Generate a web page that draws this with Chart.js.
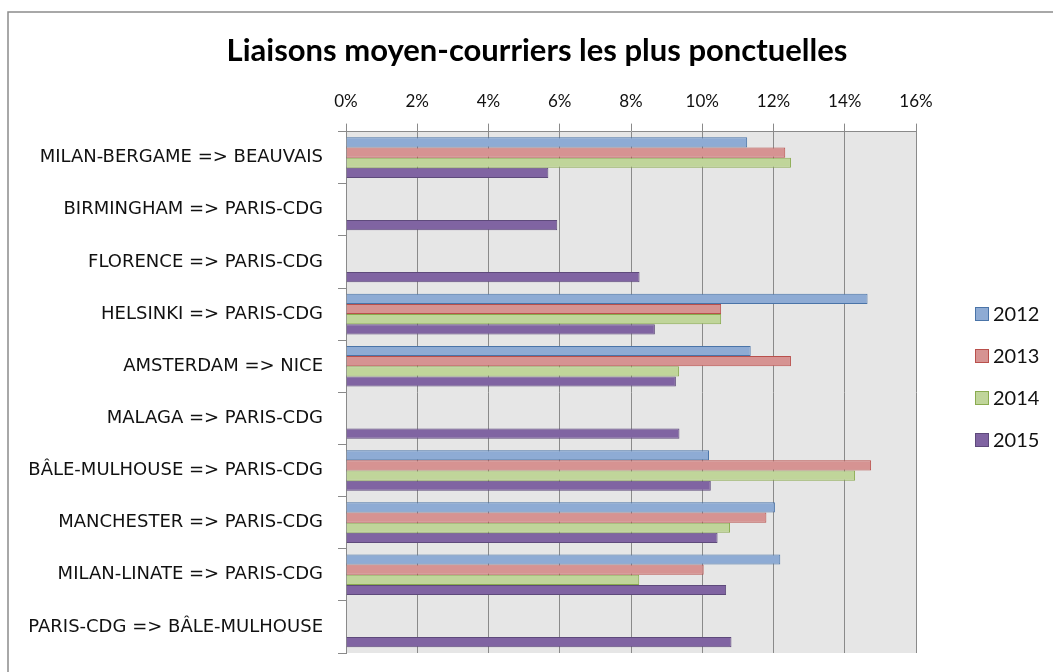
<!DOCTYPE html>
<html>
<head>
<meta charset="utf-8">
<script src="https://cdn.jsdelivr.net/npm/chart.js@4"></script>
<style>
  body { margin: 0; background: #fff; }
</style>
</head>
<body>
<canvas id="ponctualite" width="1053" height="672"></canvas>
<script>
// Data

const routes = [
  "MILAN-BERGAME => BEAUVAIS",
  "BIRMINGHAM => PARIS-CDG",
  "FLORENCE => PARIS-CDG",
  "HELSINKI => PARIS-CDG",
  "AMSTERDAM => NICE",
  "MALAGA => PARIS-CDG",
  "BÂLE-MULHOUSE => PARIS-CDG",
  "MANCHESTER => PARIS-CDG",
  "MILAN-LINATE => PARIS-CDG",
  "PARIS-CDG => BÂLE-MULHOUSE"
];
const years = ["2012", "2013", "2014", "2015"];
const vals2012 = [11.26, null, null, 14.64, 11.36, null, 10.19, 12.04, 12.19, null];
const vals2013 = [12.33, null, null, 10.53, 12.49, null, 14.74, 11.80, 10.04, null];
const vals2014 = [12.49, null, null, 10.53, 9.35, null, 14.29, 10.78, 8.23, null];
const vals2015 = [5.68, 5.93, 8.24, 8.67, 9.26, 9.36, 10.24, 10.43, 10.67, 10.82];
const pctMin = 0;
const pctMax = 16;
const pctStep = 2;

const fills = ["#8eabd4", "#d69392", "#c0d59a", "#8064a2"];
const borders = ["#4a74a8", "#b9504c", "#8aab4f", "#5e4a7b"];

Chart.defaults.font.family = "Lato";
Chart.defaults.color = "#111111";

// gray plot area + outer frame
const plotBg = {
  id: "plotBg",
  beforeDraw(chart) {
    const ctx = chart.ctx;
    const a = chart.chartArea;
    ctx.save();
    ctx.fillStyle = "#e6e6e6";
    ctx.fillRect(a.left, a.top, a.right - a.left, a.bottom - a.top);
    ctx.strokeStyle = "#8c8c8c";
    ctx.lineWidth = 1.5;
    ctx.strokeRect(8, 12, 1100, 1100);
    ctx.restore();
  }
};

// legend on the right, one line per year
const sideLegend = {
  id: "sideLegend",
  afterDraw(chart) {
    const ctx = chart.ctx;
    ctx.save();
    ctx.font = "20px Lato";
    ctx.textBaseline = "middle";
    chart.data.datasets.forEach((ds, i) => {
      const y = 314 + i * 42;
      ctx.fillStyle = ds.backgroundColor;
      ctx.fillRect(975, y - 7, 14, 14);
      ctx.strokeStyle = ds.borderColor;
      ctx.lineWidth = 1;
      ctx.strokeRect(975.5, y - 6.5, 13, 13);
      ctx.fillStyle = "#111111";
      ctx.fillText(ds.label, 993, y + 1);
    });
    ctx.restore();
  }
};

const yearData = [vals2012, vals2013, vals2014, vals2015];

new Chart(document.getElementById("ponctualite"), {
  type: "bar",
  data: {
    labels: routes,
    datasets: years.map((yr, i) => ({
      label: yr,
      data: yearData[i],
      backgroundColor: fills[i],
      borderColor: borders[i],
      borderWidth: 1,
      barPercentage: 1,
      categoryPercentage: 0.78
    }))
  },
  options: {
    indexAxis: "y",
    responsive: false,
    animation: false,
    layout: { padding: { left: 21, right: 0, top: 0, bottom: 19 } },
    plugins: {
      legend: { display: false },
      tooltip: { enabled: false },
      title: {
        display: true,
        text: "Liaisons moyen-courriers les plus ponctuelles",
        color: "#000000",
        font: { size: 31, weight: "bold" },
        padding: { top: 32, bottom: 10 }
      }
    },
    scales: {
      x: {
        position: "top",
        min: pctMin,
        max: pctMax,
        ticks: {
          stepSize: pctStep,
          padding: 12,
          font: { size: 17 },
          callback: (v) => v + "%"
        },
        grid: { color: "#8a8a8a", tickLength: 8 },
        border: { color: "#8a8a8a" }
      },
      y: {
        ticks: { padding: 15, font: { family: "DejaVu Sans", size: 18 }, autoSkip: false },
        grid: { offset: true, drawOnChartArea: false, tickLength: 8, color: "#8a8a8a" },
        border: { color: "#8a8a8a" },
        afterFit: (s) => {
          s.width = 325;
          s.paddingTop = 0;
          s.paddingBottom = 0;
        }
      },
      // keeps room for the legend on the right
      spacer: {
        type: "linear",
        position: "right",
        ticks: { display: false },
        grid: { display: false },
        border: { display: false },
        afterFit: (s) => { s.width = 137; }
      }
    }
  },
  plugins: [plotBg, sideLegend]
});
</script>
</body>
</html>
